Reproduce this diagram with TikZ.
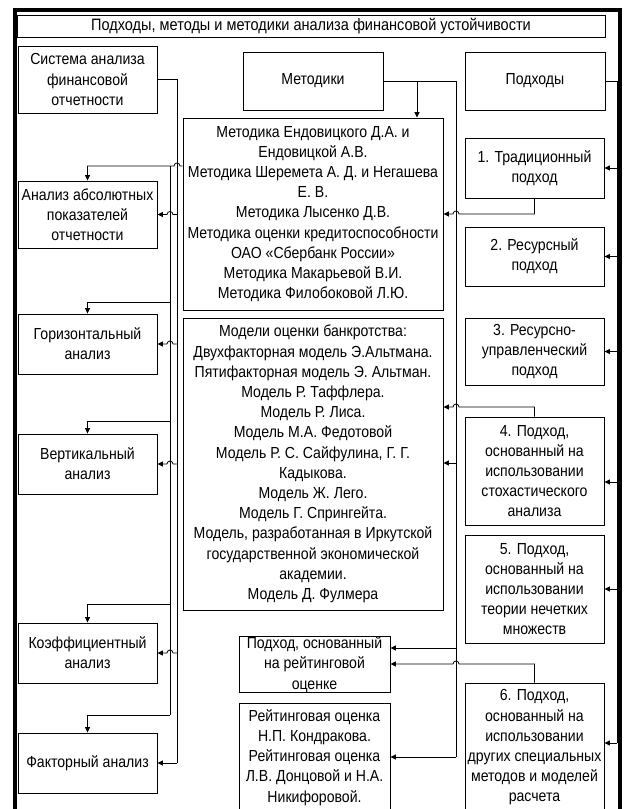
\documentclass[tikz,border=0pt]{standalone}
\usepackage{fontspec}
\setmainfont[FakeStretch=0.88]{Liberation Sans}
\usetikzlibrary{arrows.meta,calc}
\newcommand\mybox[6]{\node[box,minimum width={#4-#2},minimum height={#5-#3}] (#1) at ({(#2+#4)/2},{(#3+#5)/2}) {#6};}
\begin{document}
\begin{tikzpicture}[x=1pt,y=-1pt,
  box/.style={draw,line width=0.9pt,inner sep=0pt,align=center,font=\fontsize{16}{20.2}\selectfont},
  conn/.style={line width=0.8pt},
  arr/.style={-{Triangle[length=5.5pt,width=5pt]}}]
\useasboundingbox (0,0) rectangle (626,809);
% frame
\draw[line width=4pt,line join=miter] (15,815) -- (15,9.5) -- (620,9.5) -- (620,815);
% boxes
\mybox{title}{17}{15}{605}{37}{\fontsize{16.5}{18}\selectfont Подходы, методы и методики анализа финансовой устойчивости}
\mybox{sys}{18}{46}{157}{113}{Система анализа\\финансовой\\отчетности}
\mybox{mk}{243}{52}{383}{110}{Методики}
\mybox{pod}{465}{52}{605}{110}{Подходы}
\mybox{met}{183}{118}{443}{310}{Методика Ендовицкого Д.А. и\\Ендовицкой А.В.\\Методика Шеремета А. Д. и Негашева\\Е. В.\\Методика Лысенко Д.В.\\Методика оценки кредитоспособности\\ОАО «Сбербанк России»\\Методика Макарьевой В.И.\\Методика Филобоковой Л.Ю.}
\mybox{mod}{183}{318}{443}{610}{Модели оценки банкротства:\\Двухфакторная модель Э.Альтмана.\\Пятифакторная модель Э. Альтман.\\Модель Р. Таффлера.\\Модель Р. Лиса.\\Модель М.А. Федотовой\\Модель Р. С. Сайфулина, Г. Г.\\Кадыкова.\\Модель Ж. Лего.\\Модель Г. Спрингейта.\\Модель, разработанная в Иркутской\\государственной экономической\\академии.\\Модель Д. Фулмера}
\mybox{abs}{18}{181}{157}{248}{Анализ абсолютных\\показателей\\отчетности}
\mybox{gor}{18}{314}{157}{374}{Горизонтальный\\анализ}
\mybox{ver}{18}{434}{157}{494}{Вертикальный\\анализ}
\mybox{koe}{18}{623}{157}{683}{Коэффициентный\\анализ}
\mybox{fak}{18}{733}{157}{793}{Факторный анализ}
\mybox{pa}{465}{138}{604}{198}{1. Традиционный\\подход}
\mybox{pb}{465}{227}{604}{286}{2. Ресурсный\\подход}
\mybox{pc}{465}{318}{604}{385}{3. Ресурсно-\\управленческий\\подход}
\mybox{pd}{465}{417}{604}{525}{4. Подход,\\основанный на\\использовании\\стохастического\\анализа}
\mybox{pe}{465}{535}{604}{643}{5. Подход,\\основанный на\\использовании\\теории нечетких\\множеств}
\mybox{pf}{465}{683}{604}{812}{6. Подход,\\основанный на\\использовании\\других специальных\\методов и моделей\\расчета}
\mybox{rat}{239}{637}{390}{692}{Подход, основанный\\на рейтинговой\\оценке}
\mybox{rte}{239}{703}{390}{812}{Рейтинговая оценка\\Н.П. Кондракова.\\Рейтинговая оценка\\Л.В. Донцовой и Н.А.\\Никифоровой.}
% Система trunk (x=177)
\coordinate (sT) at (177,80);
\draw[conn] (sys.east) -- (sys.east -| sT) -- (177,763);
\draw[conn,arr] (177,763) -- (fak.east);
\foreach \n in {abs,gor,ver,koe}
  \draw[conn,arr] (\n.east -| sT) -- ++(-4,0) arc[start angle=0,end angle=180,radius=3pt] -- (\n.east);
% Методика trunk (x=170)
\draw[conn,arr] (met.west |- 0,166) -- (180,166) arc[start angle=0,end angle=180,radius=3pt] -- (abs.north |- 0,166) -- (abs.north);
\draw[conn] (170,166) -- (170,715);
\foreach \n/\y in {gor/302,ver/421,koe/604,fak/715}
  \draw[conn,arr] (170,\y) -| (\n.north);
% Подходы trunk (x=617)
\draw[conn] (pod.east) -- (617,81) -- (617,743);
\foreach \n/\y in {pa/168,pb/256.5,pc/351.5,pd/482,pe/589,pf/743}
  \draw[conn,arr] (617,\y) -- (\n.east |- 0,\y);
% Методики trunk (x=456)
\draw[conn] (mk.east) -- (456,81) -- (456,757);
\draw[conn,arr] (417,81) -- (met.north -| 417,0);
\draw[conn,arr] (456,463) -- (mod.east |- 0,463);
\draw[conn,arr] (456,648) -- (rat.east |- 0,648);
\draw[conn,arr] (456,757) -- (rte.east |- 0,757);
% approach boxes to left column
\draw[conn,arr] (pa.south) -- (pa.south |- 0,214) -- (459,214) arc[start angle=0,end angle=180,radius=3pt] -- (met.east);
\draw[conn,arr] (pd.north) -- (pd.north |- 0,407) -- (459,407) arc[start angle=0,end angle=180,radius=3pt] -- (mod.east |- 0,407);
\draw[conn,arr] (pf.north) -- (pf.north |- 0,664) -- (459,664) arc[start angle=0,end angle=180,radius=3pt] -- (rat.east |- 0,664);
\end{tikzpicture}
\end{document}
